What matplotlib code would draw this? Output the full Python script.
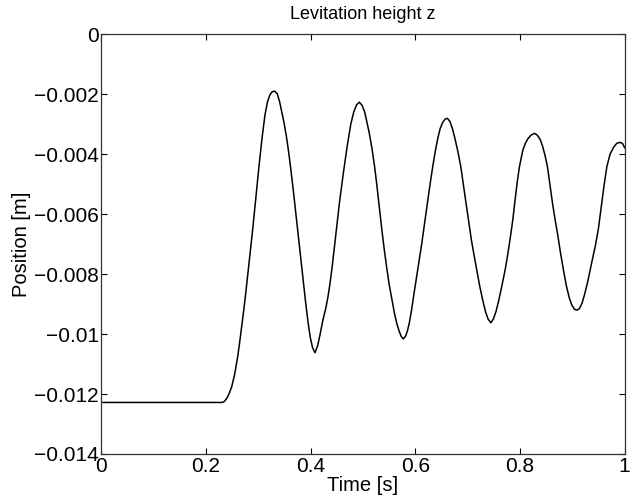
import numpy as np
import matplotlib
matplotlib.use('Agg')
import matplotlib.pyplot as plt

# levitation height z
t = [0.0, 0.2300, 0.2340, 0.2380, 0.2413, 0.2450, 0.2489, 0.2545, 0.2604,
     0.2640, 0.2680, 0.2720, 0.2757, 0.2800, 0.2845, 0.2891, 0.2950, 0.3011,
     0.3070, 0.3126, 0.3175, 0.3220, 0.3265, 0.3312,
     0.3360, 0.3405, 0.3446, 0.3490, 0.3535, 0.3580, 0.3623, 0.3670, 0.3715,
     0.3763, 0.3810, 0.3855, 0.3900, 0.3945, 0.3990, 0.4035, 0.4082,
     0.4130, 0.4180, 0.4230, 0.4290, 0.4330, 0.4369, 0.4410, 0.4446, 0.4484,
     0.4550, 0.4623, 0.4695, 0.4765, 0.4820, 0.4875, 0.4929,
     0.4980, 0.5030, 0.5071, 0.5120, 0.5170, 0.5220, 0.5262, 0.5310, 0.5358,
     0.5407, 0.5455, 0.5500, 0.5549, 0.5600, 0.5644, 0.5690, 0.5730, 0.5771,
     0.5815, 0.5850, 0.5885, 0.5925, 0.5962, 0.6005, 0.6045, 0.6085, 0.6122,
     0.6160, 0.6200, 0.6240, 0.6285, 0.6330, 0.6380, 0.6430, 0.6472, 0.6520,
     0.6570, 0.6612,
     0.6660, 0.6710, 0.6760, 0.6815, 0.6868, 0.6920, 0.6970, 0.7020, 0.7070,
     0.7120, 0.7174, 0.7230, 0.7285, 0.7340, 0.7390, 0.7442,
     0.7490, 0.7540, 0.7590, 0.7640, 0.7680, 0.7715, 0.7760, 0.7810, 0.7862,
     0.7900, 0.7945, 0.7989, 0.8054, 0.8100, 0.8150, 0.8210, 0.8275,
     0.8330, 0.8384, 0.8430, 0.8480, 0.8524, 0.8570, 0.8620, 0.8671, 0.8720,
     0.8775, 0.8830, 0.8885, 0.8940, 0.8990, 0.9040, 0.9086,
     0.9135, 0.9185, 0.9235, 0.9290, 0.9340, 0.9390, 0.9440, 0.9499, 0.9550,
     0.9605, 0.9660, 0.9720, 0.9786, 0.9850, 0.9914, 0.9960, 1.0]
z = [-0.01228, -0.01228, -0.01226, -0.01218, -0.01209, -0.01194, -0.01176,
     -0.01135, -0.01075, -0.01030, -0.00975, -0.00920, -0.00865, -0.00795,
     -0.00725, -0.00650, -0.00545, -0.00440, -0.00345, -0.00268, -0.00224,
     -0.00201, -0.00191, -0.00189,
     -0.00198, -0.00224, -0.00258, -0.00295, -0.00340, -0.00395, -0.00455,
     -0.00525, -0.00597, -0.00675, -0.00750, -0.00822, -0.00890, -0.00955,
     -0.01010, -0.01045, -0.01062,
     -0.01040, -0.01000, -0.00955, -0.00912, -0.00875, -0.00830, -0.00775,
     -0.00720, -0.00660, -0.00560, -0.00463, -0.00375, -0.00300, -0.00260,
     -0.00235, -0.00226,
     -0.00236, -0.00258, -0.00290, -0.00330, -0.00380, -0.00440, -0.00500,
     -0.00575, -0.00650, -0.00720, -0.00782, -0.00835, -0.00882, -0.00930,
     -0.00964, -0.00990, -0.01008, -0.01016,
     -0.01006, -0.00988, -0.00962, -0.00922, -0.00878, -0.00830, -0.00785,
     -0.00740, -0.00698, -0.00650, -0.00600, -0.00550, -0.00495, -0.00443,
     -0.00390, -0.00345, -0.00315, -0.00294, -0.00282, -0.00280,
     -0.00290, -0.00315, -0.00350, -0.00393, -0.00441, -0.00505, -0.00565,
     -0.00625, -0.00685, -0.00735, -0.00786, -0.00840, -0.00885, -0.00925,
     -0.00950, -0.00962,
     -0.00950, -0.00925, -0.00890, -0.00850, -0.00815, -0.00786, -0.00740,
     -0.00683, -0.00619, -0.00560, -0.00495, -0.00441, -0.00386, -0.00364,
     -0.00348, -0.00336, -0.00330,
     -0.00336, -0.00350, -0.00372, -0.00405, -0.00441, -0.00500, -0.00562,
     -0.00619, -0.00668, -0.00730, -0.00786, -0.00838, -0.00878, -0.00903,
     -0.00917, -0.00920,
     -0.00915, -0.00897, -0.00867, -0.00828, -0.00786, -0.00745, -0.00705,
     -0.00647, -0.00580, -0.00505, -0.00441, -0.00400, -0.00377, -0.00363,
     -0.00360, -0.00364, -0.00378]

xticks = [0, 0.2, 0.4, 0.6, 0.8, 1]
xlabels = ['0', '0.2', '0.4', '0.6', '0.8', '1']
yticks = [0, -0.002, -0.004, -0.006, -0.008, -0.01, -0.012, -0.014]
ylabels = ['0', '\u22120.002', '\u22120.004', '\u22120.006', '\u22120.008',
           '\u22120.01', '\u22120.012', '\u22120.014']

plt.rcParams['font.family'] = ['Liberation Sans', 'DejaVu Sans']

fig = plt.figure(figsize=(6.42, 4.99), dpi=100)
ax = fig.add_axes([0.158, 0.0902, 0.815, 0.8407])
ax.plot(t, z, color='black', linewidth=1.1)

ax.set_xlim(0, 1)
ax.set_ylim(-0.014, 0)
ax.set_xticks(xticks)
ax.set_xticklabels(xlabels)
ax.set_yticks(yticks)
ax.set_yticklabels(ylabels)
ax.tick_params(direction='in', length=4, width=0.8, top=True, right=True,
               labelsize=15, pad=2)
for s in ax.spines.values():
    s.set_linewidth(0.9)
    s.set_color('#333333')

ax.set_title('Levitation height z', fontsize=13, pad=11)
ax.set_xlabel('Time [s]', fontsize=14.5, labelpad=0)
ax.set_ylabel('Position [m]', fontsize=14.5, labelpad=2)

fig.savefig('out.png', dpi=100)
